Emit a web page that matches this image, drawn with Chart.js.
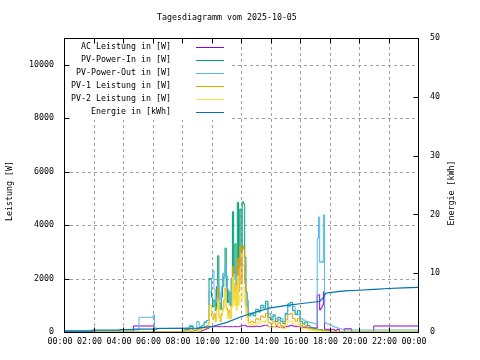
<!DOCTYPE html>
<html><head><meta charset="utf-8">
<script src="https://cdn.jsdelivr.net/npm/chart.js@4/dist/chart.umd.min.js"></script>
<style>html,body{margin:0;padding:0;background:#fff}canvas{display:block}</style>
</head><body>
<canvas id="c" width="480" height="360"></canvas>
<script>
const chartTitle = 'Tagesdiagramm vom 2025-10-05';
const leftAxisTitle = 'Leistung [W]';
const rightAxisTitle = 'Energie [kWh]';
const seriesNames = ['AC Leistung in [W]', 'PV-Power-In in [W]', 'PV-Power-Out in [W]', 'PV-1 Leistung in [W]', 'PV-2 Leistung in [W]', 'Energie in [kWh]'];
const seriesColors = ['#9400d3', '#009e73', '#56b4e9', '#e69f00', '#f0e442', '#0072b2'];
const xTickMinutes = [0,120,240,360,480,600,720,840,960,1080,1200,1320,1440];
const xTickLabels = ['00:00','02:00','04:00','06:00','08:00','10:00','12:00','14:00','16:00','18:00','20:00','22:00','00:00'];
const leftTicks = [0,2000,4000,6000,8000,10000];
const rightTicks = [0,10,20,30,40,50];

// minutes after midnight
const powerTimes = [0,114,228,282,305,363,368,375,420,480,492,510,525,
 540,550,560,570,580,590,
 600,605,610,615,620,625,630,635,640,645,650,655,660,665,670,675,680,685,690,695,700,705,710,715,720,725,730,735,740,745,750,
 760,770,780,790,800,810,820,830,840,850,860,870,880,890,900,910,920,930,940,950,960,970,980,990,1000,1010,1020,1030,
 1035,1040,1045,1050,1055,1060,1065,1070,1080,1090,1100,1110,1120,1130,1140,1170,1180,1260,1395,1440];
const acPower = [0,0,0,0,225,225,225,0,0,0,0,0,0,
 0,0,0,60,100,140,
 200,200,200,200,200,200,200,200,200,200,200,200,200,200,200,200,200,200,200,200,200,200,200,200,220,220,250,250,250,220,200,
 200,200,200,220,200,220,250,250,200,200,200,200,180,180,180,200,220,250,220,200,200,180,180,180,160,150,150,150,
 1390,1390,825,900,1000,1500,100,100,100,80,100,60,100,0,0,120,0,0,225,225];
const pvPowerIn = [0,0,0,0,0,0,0,0,0,0,0,100,200,
 50,130,160,240,350,430,
 2000,1300,950,1200,800,1700,2850,1100,850,1300,1700,2100,3140,1700,1100,1500,1000,2000,4500,2200,3300,1800,4850,2500,4600,3000,4875,4800,2800,1500,950,
 600,700,600,850,750,1000,900,1150,550,450,600,400,550,400,320,700,1050,1110,800,650,800,400,300,380,240,180,150,120,
 100,100,90,90,70,70,60,60,40,30,10,0,0,0,0,0,0,0,0,0];
const pvPowerOut = [75,60,75,75,75,550,640,150,140,140,60,150,250,
 120,390,200,250,380,420,
 1500,2000,2290,1600,1100,1300,1800,1500,1200,1700,2200,2000,2500,2100,1600,1200,1000,1400,1800,2000,2200,2000,2600,2400,2700,2500,2500,2500,2000,1500,1200,
 700,650,700,750,800,900,1000,1050,700,600,650,500,450,500,400,650,950,1010,950,700,650,500,450,400,380,350,330,300,
 3500,4300,2600,2650,2600,4380,350,330,300,250,220,180,150,120,100,75,75,75,75,75];
const pv1Power = [0,0,0,0,0,0,0,0,0,0,0,50,100,
 30,80,100,150,200,250,
 1000,600,500,700,400,900,1650,600,400,700,900,1200,1650,900,600,800,500,1100,2450,1200,1800,1000,2760,1500,3200,1800,3225,3100,1800,900,550,
 350,400,350,500,450,600,550,700,350,300,400,250,350,250,200,450,650,700,500,400,500,250,200,250,150,120,100,80,
 70,70,60,60,50,50,40,40,30,20,10,0,0,0,0,0,0,0,0,0];
const pv2Power = [0,0,0,0,0,0,0,0,0,0,0,30,60,
 20,50,60,90,150,180,
 1000,700,450,500,400,800,1200,500,450,600,800,900,1500,800,500,700,500,900,2050,1000,1500,800,2090,1000,1400,1200,1650,1700,1000,600,400,
 250,300,250,350,300,400,350,450,200,150,200,150,200,150,120,250,400,410,300,250,300,150,100,130,90,60,50,40,
 30,30,30,30,20,20,20,20,10,10,0,0,0,0,0,0,0,0,0,0];

const energyTimes = [0,114,114,228,228,282,282,378,378,540,600,660,720,780,840,900,960,1020,1040,1055,1065,1080,1140,1200,1260,1320,1380,1440];
const energyKWh = [0.15,0.15,0.3,0.3,0.4,0.4,0.5,0.5,0.6,0.65,0.9,1.6,2.6,3.4,4.1,4.5,4.8,5.1,5.2,5.9,6.6,6.7,7.0,7.1,7.25,7.4,7.5,7.6];

const FONT = 'DejaVu Sans Mono';
const FS = 8.3;

function pts(times, vals){ return times.map((t,i)=>({x:t, y:vals[i]})); }

const powerSeries = [acPower, pvPowerIn, pvPowerOut, pv1Power, pv2Power];
const datasets = powerSeries.map((vals, k)=>({
  label: seriesNames[k], data: pts(powerTimes, vals), yAxisID: 'y',
  borderColor: seriesColors[k], borderWidth: 1, pointRadius: 0, stepped: 'after',
  order: 6 - k, fill: false
}));
datasets.push({
  label: seriesNames[5], data: pts(energyTimes, energyKWh), yAxisID: 'y2',
  borderColor: seriesColors[5], borderWidth: 1.2, pointRadius: 0, order: 0, fill: false
});

const framePlugin = {
  id: 'frame',
  beforeDatasetsDraw(chart){
    const {ctx, chartArea: a, scales} = chart;
    ctx.save();
    ctx.strokeStyle = '#a0a0a0'; ctx.lineWidth = 1; ctx.setLineDash([3,3]);
    scales.x.ticks.forEach(t=>{
      if (t.value <= 0 || t.value >= 1440) return;
      const x = Math.round(scales.x.getPixelForValue(t.value)) + 0.5;
      ctx.beginPath(); ctx.moveTo(x, a.bottom); ctx.lineTo(x, a.top); ctx.stroke();
    });
    scales.y.ticks.forEach(t=>{
      if (t.value <= 0) return;
      const y = Math.round(scales.y.getPixelForValue(t.value)) + 0.5;
      ctx.beginPath(); ctx.moveTo(a.left, y); ctx.lineTo(a.right, y); ctx.stroke();
    });
    ctx.restore();
  },
  afterDraw(chart){
    const {ctx, chartArea: a, scales} = chart;
    ctx.save();
    // legend background
    ctx.fillStyle = '#fff';
    ctx.fillRect(Math.round(a.left)+1, Math.round(a.top)+1, 164, 81);
    ctx.strokeStyle = '#000'; ctx.lineWidth = 1; ctx.setLineDash([]);
    const L = Math.round(a.left)+0.5, R = Math.round(a.right)+0.5, T = Math.round(a.top)+0.5, B = Math.round(a.bottom)+0.5;
    ctx.strokeRect(L, T, R-L, B-T);
    const tl = 5;
    ctx.beginPath();
    scales.x.ticks.forEach(t=>{
      const x = Math.round(scales.x.getPixelForValue(t.value)) + 0.5;
      ctx.moveTo(x, B); ctx.lineTo(x, B - tl);
      ctx.moveTo(x, T); ctx.lineTo(x, T + tl);
    });
    scales.y.ticks.forEach(t=>{
      const y = Math.round(scales.y.getPixelForValue(t.value)) + 0.5;
      ctx.moveTo(L, y); ctx.lineTo(L + tl, y);
    });
    scales.y2.ticks.forEach(t=>{
      const y = Math.round(scales.y2.getPixelForValue(t.value)) + 0.5;
      ctx.moveTo(R, y); ctx.lineTo(R - tl, y);
    });
    ctx.stroke();

    ctx.fillStyle = '#000';
    ctx.font = FS + 'px "' + FONT + '"';
    ctx.textBaseline = 'middle';
    ctx.textAlign = 'left';
    ctx.fillText(chartTitle, 157, 18);
    seriesNames.forEach((name, k)=>{
      const y = 46.5 + 13.1*k;
      ctx.textAlign = 'right';
      ctx.fillStyle = '#000';
      ctx.fillText(name, 171, y);
      ctx.strokeStyle = seriesColors[k];
      ctx.beginPath(); ctx.moveTo(196, Math.round(y)+0.5); ctx.lineTo(224, Math.round(y)+0.5); ctx.stroke();
    });
    ctx.fillStyle = '#000';
    ctx.textAlign = 'center';
    ctx.save(); ctx.translate(10, 191); ctx.rotate(-Math.PI/2); ctx.fillText(leftAxisTitle, 0, 0); ctx.restore();
    ctx.save(); ctx.translate(452, 193); ctx.rotate(-Math.PI/2); ctx.fillText(rightAxisTitle, 0, 0); ctx.restore();
    ctx.restore();
  }
};

const tickFont = {family: FONT, size: FS};
new Chart(document.getElementById('c'), {
  type: 'line',
  data: {datasets},
  options: {
    responsive: false, animation: false, devicePixelRatio: 1,
    layout: {padding: {top: 38, left: 0, right: 0, bottom: 0}},
    plugins: {legend: {display: false}, title: {display: false}, tooltip: {enabled: false}},
    scales: {
      x: {
        type: 'linear', min: 0, max: 1440,
        afterBuildTicks: s => { s.ticks = xTickMinutes.map(v=>({value: v})); },
        afterFit: s => { s.height = 28; },
        ticks: {callback: (v, i) => xTickLabels[i], font: tickFont, color: '#000', padding: 5, labelOffset: -4, maxRotation: 0, autoSkip: false},
        grid: {display: false, drawTicks: false}, border: {display: false}
      },
      y: {
        position: 'left', min: 0, max: 11000,
        afterBuildTicks: s => { s.ticks = leftTicks.map(v=>({value: v})); },
        afterFit: s => { s.width = 64; },
        ticks: {callback: v => String(v), font: tickFont, color: '#000', padding: 10},
        grid: {display: false, drawTicks: false}, border: {display: false}
      },
      y2: {
        position: 'right', min: 0, max: 50,
        afterBuildTicks: s => { s.ticks = rightTicks.map(v=>({value: v})); },
        afterFit: s => { s.width = 62; },
        ticks: {callback: v => String(v), font: tickFont, color: '#000', padding: 12},
        grid: {display: false, drawTicks: false}, border: {display: false}
      }
    }
  },
  plugins: [framePlugin]
});
</script>
</body></html>
